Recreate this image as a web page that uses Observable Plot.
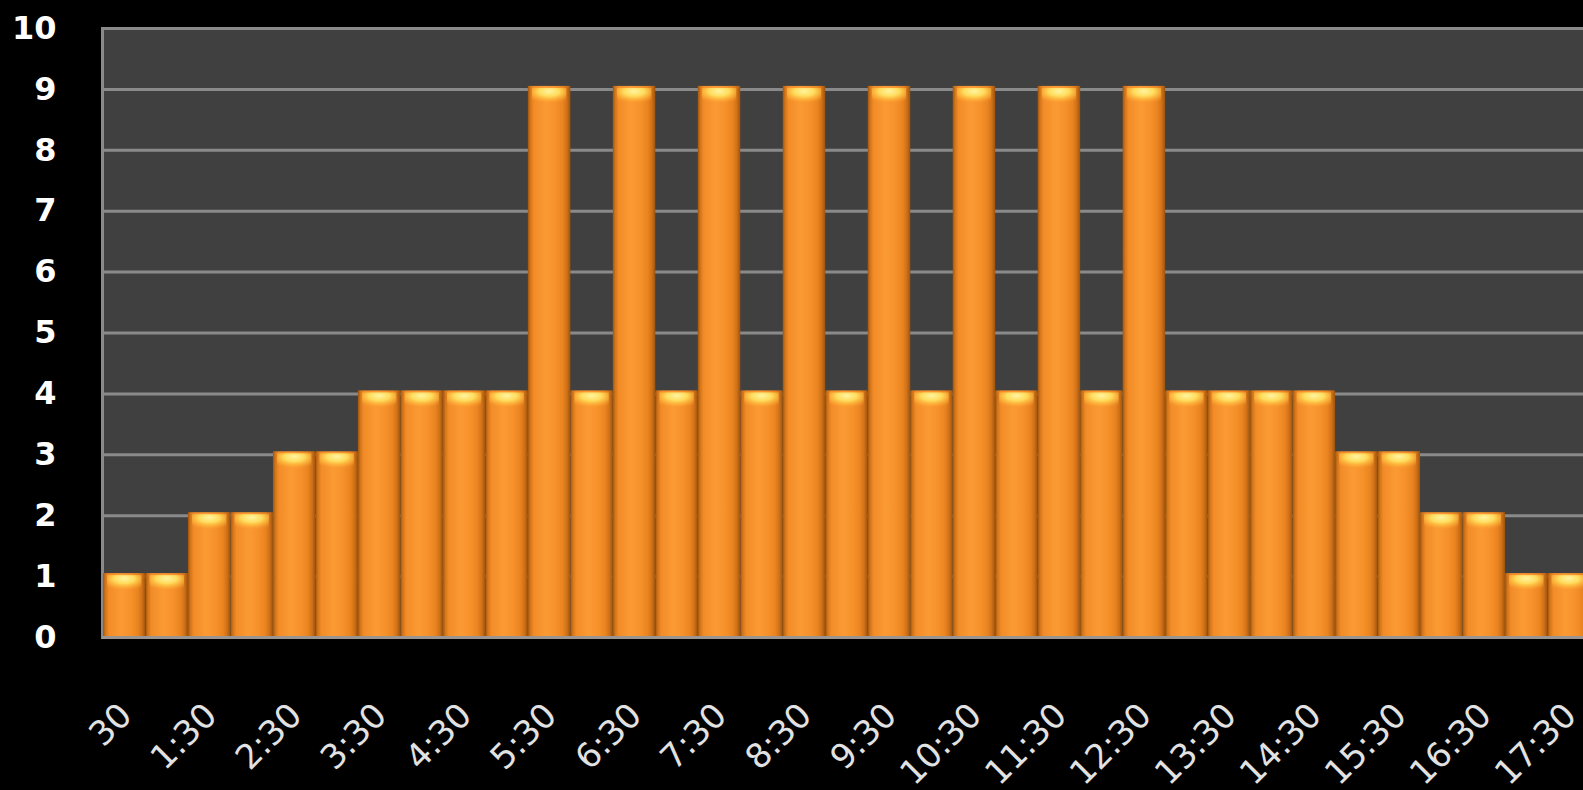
<!DOCTYPE html>
<html>
<head>
<meta charset="utf-8">
<script src="https://cdn.jsdelivr.net/npm/d3@7"></script>
<script src="https://cdn.jsdelivr.net/npm/@observablehq/plot@0.6"></script>
<style>
  html, body { margin: 0; padding: 0; background: #000; }
  #chart { width: 1583px; height: 790px; overflow: hidden; }
  svg { display: block; }
</style>
</head>
<body>
<div id="chart"></div>
<script>
// Half-hour slots and the count recorded in each
const slots = [
  "0:30", "1:00", "1:30", "2:00", "2:30", "3:00", "3:30", "4:00", "4:30", "5:00",
  "5:30", "6:00", "6:30", "7:00", "7:30", "8:00", "8:30", "9:00", "9:30", "10:00",
  "10:30", "11:00", "11:30", "12:00", "12:30", "13:00", "13:30", "14:00", "14:30", "15:00",
  "15:30", "16:00", "16:30", "17:00", "17:30"
];
const counts = [
  1, 1, 2, 2, 3, 3, 4, 4, 4, 4,
  9, 4, 9, 4, 9, 4, 9, 4, 9, 4,
  9, 4, 9, 4, 9, 4, 4, 4, 4, 3,
  3, 2, 2, 1, 1
];
// Labels shown under every other slot
const tickLabels = [
  "30", "1:30", "2:30", "3:30", "4:30", "5:30", "6:30", "7:30", "8:30",
  "9:30", "10:30", "11:30", "12:30", "13:30", "14:30", "15:30", "16:30", "17:30"
];
const yTicks = [0, 1, 2, 3, 4, 5, 6, 7, 8, 9, 10];

const data = slots.map((slot, i) => ({slot, count: counts[i]}));
const labelled = tickLabels.map((label, i) => ({slot: slots[i * 2], label}));

const font = "DejaVu Sans, Verdana, sans-serif";

const chart = Plot.plot({
  width: 1583,
  height: 790,
  marginLeft: 102,
  marginRight: -10,
  marginTop: 28,
  marginBottom: 153,
  style: {background: "#000", fontFamily: font, overflow: "hidden"},
  x: {type: "band", domain: slots, range: [103, 1590], padding: 0, round: false, axis: null},
  y: {domain: [0, 10], range: [637, 28], axis: null},
  marks: [
    Plot.frame({fill: "#404040", stroke: "#8a8a8a", strokeWidth: 3}),
    Plot.ruleY(yTicks, {stroke: "#8a8a8a", strokeWidth: 3}),
    // cylinder-shaded bars
    Plot.barY(data, {x: "slot", y: "count", fill: "url(#barBody)", insetTop: -3}),
    // bright cap at the top of each bar
    Plot.barY(data, {
      x: "slot", y1: "count", y2: "count",
      insetTop: -1, insetBottom: -15, insetLeft: 4, insetRight: 4,
      fill: "url(#barCap)"
    }),
    Plot.ruleY([0], {stroke: "#9a9590", strokeWidth: 3}),
    Plot.axisY(yTicks, {
      anchor: "left", label: null, tickSize: 0, tickPadding: 46,
      tickFormat: (d) => `${d}`,
      fontSize: 32, fontWeight: "bold", fill: "#fff", fontFamily: font
    }),
    Plot.text(labelled, {
      x: "slot", y: () => 0, text: "label",
      rotate: -45, textAnchor: "end", lineAnchor: "bottom",
      dx: 9, dy: 80, fontSize: 34, fill: "#e2e2e2", fontFamily: font
    })
  ]
});

// gradients referenced by the bar fills
const ns = "http://www.w3.org/2000/svg";
const defs = document.createElementNS(ns, "defs");
defs.innerHTML = `
  <linearGradient id="barBody" x1="0" x2="1" y1="0" y2="0">
    <stop offset="0" stop-color="#a0560e"/>
    <stop offset="0.06" stop-color="#d5761a"/>
    <stop offset="0.14" stop-color="#f28c28"/>
    <stop offset="0.42" stop-color="#fb9a33"/>
    <stop offset="0.64" stop-color="#f7922b"/>
    <stop offset="0.82" stop-color="#ea8420"/>
    <stop offset="0.92" stop-color="#cf7018"/>
    <stop offset="1" stop-color="#9a540e"/>
  </linearGradient>
  <radialGradient id="barCap" cx="0.5" cy="0.25" r="0.75" fx="0.5" fy="0.2">
    <stop offset="0" stop-color="#fff4a0"/>
    <stop offset="0.4" stop-color="#ffdc5c"/>
    <stop offset="0.7" stop-color="#ffb83c" stop-opacity="0.6"/>
    <stop offset="1" stop-color="#f7922b" stop-opacity="0"/>
  </radialGradient>`;
chart.insertBefore(defs, chart.firstChild);

document.getElementById("chart").appendChild(chart);
</script>
</body>
</html>
